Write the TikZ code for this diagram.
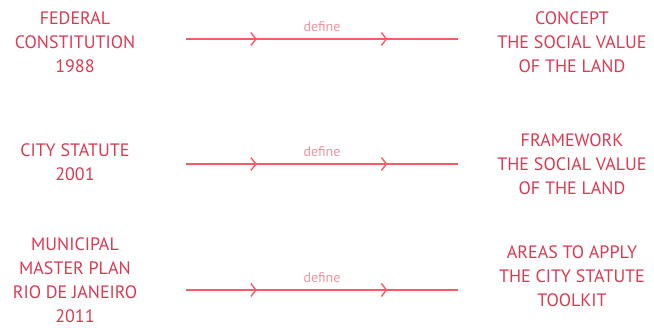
\documentclass[tikz,border=0pt]{standalone}
\usepackage{fontspec}
\setmainfont{PT Sans}
\usetikzlibrary{decorations.markings,arrows.meta}
\definecolor{lawred}{RGB}{218,58,82}
\definecolor{linkred}{RGB}{250,90,100}
\definecolor{defpink}{RGB}{245,145,158}

\begin{document}
\begin{tikzpicture}[x=1pt,y=-1pt,
  txt/.style={align=center,text=lawred,font=\fontsize{18}{24}\selectfont,inner sep=0pt},
  link/.style={draw=linkred,line width=1.4pt,postaction={decorate},
    decoration={markings,
      mark=at position 0.26 with {\arrow[linkred]{Straight Barb[length=5pt,width=13pt]}},
      mark=at position 0.74 with {\arrow[linkred]{Straight Barb[length=5pt,width=13pt]}}}},
  lbl/.style={text=defpink,font=\fontsize{14}{16}\selectfont,inner sep=0pt}]
\useasboundingbox (0,0) rectangle (654,328);

% Left column: laws
\node[txt] (fed) at (75,42) {FEDERAL\\CONSTITUTION\\1988};
\node[txt] (city) at (75,162) {CITY STATUTE\\2001};
\node[txt] (plan) at (75,280) {MUNICIPAL\\MASTER PLAN\\RIO DE JANEIRO\\2011};

% Right column: what they define
\node[txt] (con) at (572,42) {CONCEPT\\THE SOCIAL VALUE\\OF THE LAND};
\node[txt] (frm) at (572,164) {FRAMEWORK\\THE SOCIAL VALUE\\OF THE LAND};
\node[txt] (area) at (572,276) {AREAS TO APPLY\\THE CITY STATUTE\\TOOLKIT};

% Line ends
\coordinate (a1) at (186,39);
\coordinate (b1) at (458,39);
\coordinate (a2) at (186,164);
\coordinate (b2) at (458,164);
\coordinate (a3) at (186,290);
\coordinate (b3) at (458,290);

% Links
\draw[link] (a1) -- node[lbl,above=7pt] (d1) {define} (b1);
\draw[link] (a2) -- node[lbl,above=7pt] (d2) {define} (b2);
\draw[link] (a3) -- node[lbl,above=7pt] (d3) {define} (b3);
\end{tikzpicture}
\end{document}
